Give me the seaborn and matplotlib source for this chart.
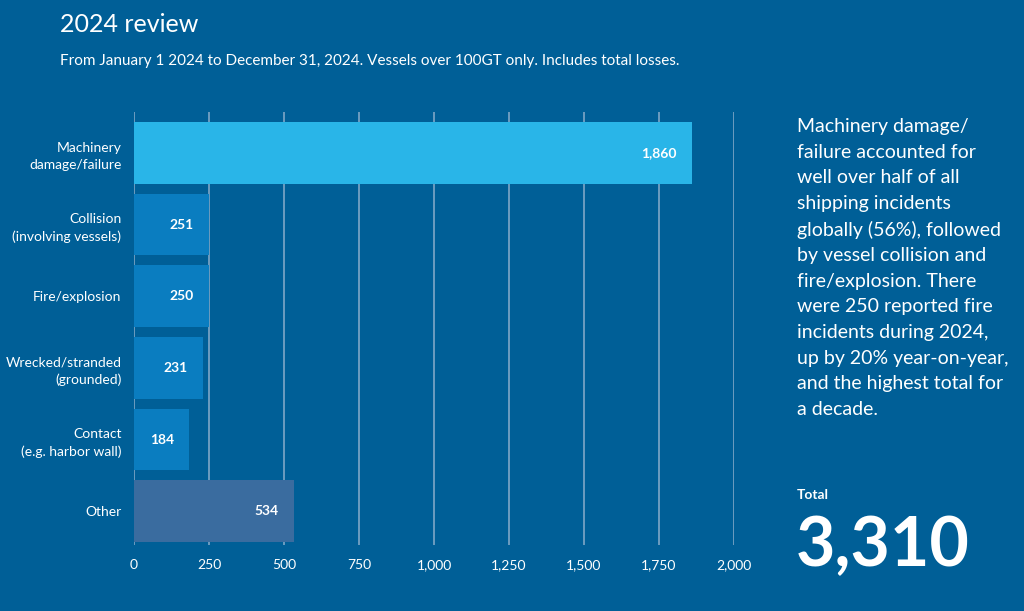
import matplotlib
matplotlib.use("Agg")
import matplotlib.pyplot as plt
import seaborn as sns
import pandas as pd

categories = ["Machinery\ndamage/failure", "Collision\n(involving vessels)", "Fire/explosion",
              "Wrecked/stranded\n(grounded)", "Contact\n(e.g. harbor wall)", "Other"]
values = [1860, 251, 250, 231, 184, 534]
bar_colors = ["#29B5E8", "#0A7DC0", "#0A7DC0", "#0A7DC0", "#0A7DC0", "#3A6C9F"]
xticks = [0, 250, 500, 750, 1000, 1250, 1500, 1750, 2000]
total = 3310

BG = "#005F97"
GRID = "#7FA6C6"

sns.set_theme(style="white")
plt.rcParams["font.family"] = ["Lato", "DejaVu Sans"]

fig = plt.figure(figsize=(10.24, 6.11), dpi=100, facecolor=BG)
ax = fig.add_axes([134/1024, 1-545/611, 600/1024, (545-112)/611])
ax.set_facecolor(BG)

df = pd.DataFrame({"cat": categories, "val": values})
sns.barplot(data=df, y="cat", x="val", hue="cat", palette=bar_colors, legend=False,
            orient="h", width=0.86, saturation=1, ax=ax, zorder=3, linewidth=0, edgecolor="none")

ax.set_xlim(0, 2000)
ax.set_ylim(5.47, -0.57)
ax.set_xticks(xticks)
ax.set_xticklabels([f"{t:,}" for t in xticks], color="white", fontsize=10)
ax.tick_params(axis="x", length=0, pad=10)
ax.tick_params(axis="y", length=0, pad=9)
ax.set_yticks(range(len(categories)))
ax.set_yticklabels(categories, color="white", fontsize=10, ha="right",
                   multialignment="right", linespacing=1.5)
ax.set_xlabel("")
ax.set_ylabel("")
ax.xaxis.grid(True, color=GRID, linewidth=1.2, zorder=0)
ax.set_axisbelow(True)
for s in ax.spines.values():
    s.set_visible(False)

for i, v in enumerate(values):
    ax.annotate(f"{v:,}", xy=(v, i), xytext=(-11, 0), textcoords="offset points",
                ha="right", va="center", color="white", fontsize=10, fontweight="bold", zorder=5)

fig.text(60/1024, 1-24/611, "2024 review", color="white", fontsize=18, va="center", ha="left")
fig.text(60/1024, 1-61/611,
         "From January 1 2024 to December 31, 2024. Vessels over 100GT only. Includes total losses.",
         color="white", fontsize=11, va="center", ha="left")

para = ("Machinery damage/\nfailure accounted for\nwell over half of all\nshipping incidents\n"
        "globally (56%), followed\nby vessel collision and\nfire/explosion. There\n"
        "were 250 reported fire\nincidents during 2024,\nup by 20% year-on-year,\n"
        "and the highest total for\na decade.")
fig.text(797/1024, 1-118/611, para, color="white", fontsize=14, va="top", ha="left",
         linespacing=1.61)
fig.text(797/1024, 1-495/611, "Total", color="white", fontsize=10, fontweight="bold",
         va="center", ha="left")
fig.text(796/1024, 1-566/611, f"{total:,}", color="white", fontsize=49, fontweight="bold",
         va="baseline", ha="left")

fig.savefig("out.png", dpi=100, facecolor=BG)
